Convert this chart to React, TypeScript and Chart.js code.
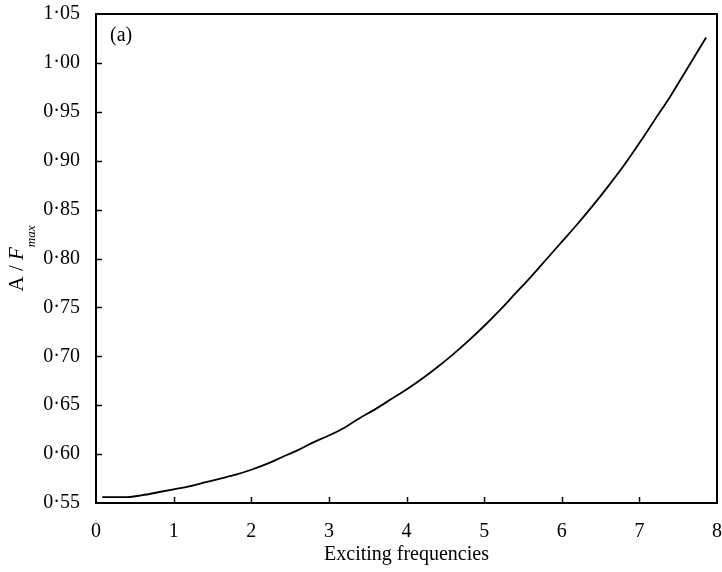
import React, { useEffect, useRef } from "react";
import { Chart, registerables } from "chart.js";

Chart.register(...registerables);

// Exciting frequency values (x) and normalised amplitude A/Fmax (y)
const frequencies = [
  0.08, 0.4, 0.6, 0.8, 1.0, 1.2, 1.4, 1.6, 1.8, 2.0, 2.2, 2.4, 2.6, 2.8, 3.0,
  3.2, 3.4, 3.6, 3.8, 4.0, 4.2, 4.4, 4.6, 4.8, 5.0, 5.2, 5.4, 5.6, 5.8, 6.0,
  6.2, 6.4, 6.6, 6.8, 7.0, 7.2, 7.4, 7.6, 7.86,
];
const amplitudes = [
  0.556, 0.556, 0.558, 0.561, 0.564, 0.567, 0.571, 0.575, 0.579, 0.584, 0.59,
  0.597, 0.604, 0.612, 0.619, 0.627, 0.637, 0.646, 0.656, 0.666, 0.677, 0.689,
  0.702, 0.716, 0.731, 0.747, 0.764, 0.781, 0.799, 0.817, 0.835, 0.854, 0.874,
  0.895, 0.918, 0.942, 0.966, 0.992, 1.026,
];
const xTicks = [0, 1, 2, 3, 4, 5, 6, 7, 8];
const yTicks = [0.55, 0.6, 0.65, 0.7, 0.75, 0.8, 0.85, 0.9, 0.95, 1.0, 1.05];

const xTitle = "Exciting frequencies";
const yTitleA = "A / ";
const yTitleF = "F";
const yTitleSub = "max";
const panelLabel = "(a)";

const FONT = "'Liberation Serif', 'Times New Roman', serif";

const framePlugin = {
  id: "frame",
  afterDraw(chart: any) {
    const { ctx, chartArea } = chart;
    const xs = chart.scales.x;
    const ys = chart.scales.y;
    ctx.save();
    ctx.strokeStyle = "#000";
    ctx.lineWidth = 2;
    ctx.strokeRect(
      chartArea.left,
      chartArea.top,
      chartArea.right - chartArea.left,
      chartArea.bottom - chartArea.top
    );
    ctx.lineWidth = 1.5;
    const tl = 6;
    ctx.beginPath();
    xTicks.slice(1, -1).forEach((v) => {
      const px = Math.round(xs.getPixelForValue(v)) + 0.5;
      ctx.moveTo(px, chartArea.bottom);
      ctx.lineTo(px, chartArea.bottom - tl);
    });
    yTicks.slice(1, -1).forEach((v) => {
      const py = Math.round(ys.getPixelForValue(v)) + 0.5;
      ctx.moveTo(chartArea.left, py);
      ctx.lineTo(chartArea.left + tl, py);
    });
    ctx.stroke();

    // panel label
    ctx.fillStyle = "#000";
    ctx.font = `20px ${FONT}`;
    ctx.textAlign = "left";
    ctx.textBaseline = "middle";
    ctx.fillText(panelLabel, chartArea.left + 14, chartArea.top + 22);

    // y-axis title with subscript
    const aFont = `21px ${FONT}`;
    const fFont = `italic 21px ${FONT}`;
    const subFont = `italic 13px ${FONT}`;
    ctx.font = aFont;
    const wA = ctx.measureText(yTitleA).width;
    ctx.font = fFont;
    const wF = ctx.measureText(yTitleF).width;
    ctx.font = subFont;
    const wSub = ctx.measureText(yTitleSub).width;
    const total = wA + wF + wSub;
    const cy = (chartArea.top + chartArea.bottom) / 2;
    ctx.translate(23, cy);
    ctx.rotate(-Math.PI / 2);
    ctx.textBaseline = "alphabetic";
    let x0 = -total / 2;
    ctx.font = aFont;
    ctx.fillText(yTitleA, x0, 0);
    x0 += wA;
    ctx.font = fFont;
    ctx.fillText(yTitleF, x0, 0);
    x0 += wF;
    ctx.font = subFont;
    ctx.fillText(yTitleSub, x0, 12);
    ctx.restore();
  },
};

export default function App() {
  const ref = useRef<HTMLCanvasElement | null>(null);
  useEffect(() => {
    document.body.style.margin = "0";
    const canvas = ref.current;
    if (!canvas) return;
    const chart = new Chart(canvas, {
      type: "line",
      data: {
        datasets: [
          {
            data: frequencies.map((f, i) => ({ x: f, y: amplitudes[i] })),
            borderColor: "#000",
            borderWidth: 1.8,
            pointRadius: 0,
            fill: false,
            cubicInterpolationMode: "monotone",
          },
        ],
      },
      options: {
        responsive: false,
        animation: false,
        events: [],
        layout: { padding: { top: 14, right: 5, left: 0, bottom: 0 } },
        plugins: {
          legend: { display: false },
          tooltip: { enabled: false },
        },
        scales: {
          x: {
            type: "linear",
            min: 0,
            max: 8,
            afterBuildTicks: (s: any) => {
              s.ticks = xTicks.map((v) => ({ value: v }));
            },
            afterFit: (s: any) => {
              s.height = 69;
              s.paddingLeft = 0;
              s.paddingRight = 0;
            },
            grid: { display: false, drawTicks: false, tickLength: 0 },
            border: { display: false },
            ticks: {
              color: "#000",
              padding: 17,
              maxRotation: 0,
              autoSkip: false,
              font: { family: FONT, size: 20 },
              callback: (v: any) => String(v),
            },
            title: {
              display: true,
              text: xTitle,
              color: "#000",
              font: { family: FONT, size: 20 },
              padding: { top: 0, bottom: 5 },
            },
          },
          y: {
            type: "linear",
            min: 0.55,
            max: 1.05,
            afterBuildTicks: (s: any) => {
              s.ticks = yTicks.map((v) => ({ value: v }));
            },
            afterFit: (s: any) => {
              s.width = 96;
              s.paddingTop = 0;
              s.paddingBottom = 0;
            },
            grid: { display: false, drawTicks: false, tickLength: 0 },
            border: { display: false },
            ticks: {
              color: "#000",
              padding: 16,
              autoSkip: false,
              font: { family: FONT, size: 20 },
              callback: (v: any) => Number(v).toFixed(2).replace(".", "·"),
            },
          },
        },
      },
      plugins: [framePlugin],
    } as any);
    return () => chart.destroy();
  }, []);
  return (
    <div style={{ width: 722, height: 572, background: "#fff" }}>
      <canvas ref={ref} width={722} height={572} style={{ display: "block" }} />
    </div>
  );
}
